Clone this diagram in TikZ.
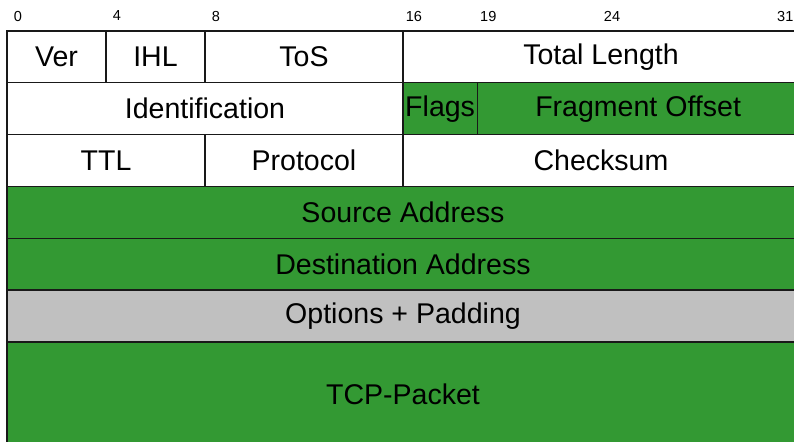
\documentclass[tikz,border=0pt]{standalone}
\usepackage{fontspec}
\setmainfont{Liberation Sans}
\definecolor{fgreen}{RGB}{51,153,51}
\definecolor{fgray}{RGB}{192,192,192}
\newcommand\fld[7]{\node[fld, fill=#6, minimum width={(#3-#2)*24.75*0.75pt}, minimum height={(#5-#4)*51.83*0.75pt}] (#1) at ({7+24.75*(#2+#3)/2},{31+51.83*(#4+#5)/2}) {#7};}
\newcommand\bitlbl[1]{\node[bitlabel] (b#1) at ({7+24.75*#1+11},16) {#1};}
\begin{document}
\begin{tikzpicture}[x=0.75pt,y=-0.75pt,
  fld/.style={draw=black!90, line width=1pt, rectangle, inner sep=0pt, font=\fontsize{21.4}{24}\selectfont},
  bitlabel/.style={inner sep=0pt, font=\fontsize{10.9}{12}\selectfont}]
\useasboundingbox (0,0) rectangle (794,442);
\clip (0,0) rectangle (794,442);
\fill[white] (0,0) rectangle (794,442);
\bitlbl{0}\bitlbl{4}\bitlbl{8}\bitlbl{16}\bitlbl{19}\bitlbl{24}\bitlbl{31}
\fld{ver}{0}{4}{0}{1}{white}{Ver}
\fld{ihl}{4}{8}{0}{1}{white}{IHL}
\fld{tos}{8}{16}{0}{1}{white}{ToS}
\fld{tl}{16}{32}{0}{1}{white}{Total Length}
\fld{id}{0}{16}{1}{2}{white}{Identification}
\fld{flags}{16}{19}{1}{2}{fgreen}{Flags}
\fld{fo}{19}{32}{1}{2}{fgreen}{Fragment Offset}
\fld{ttl}{0}{8}{2}{3}{white}{TTL}
\fld{proto}{8}{16}{2}{3}{white}{Protocol}
\fld{cks}{16}{32}{2}{3}{white}{Checksum}
\fld{src}{0}{32}{3}{4}{fgreen}{Source Address}
\fld{dst}{0}{32}{4}{5}{fgreen}{Destination Address}
\fld{opt}{0}{32}{5}{6}{fgray}{Options + Padding}
\fld{tcp}{0}{32}{6}{8}{fgreen}{TCP-Packet}
\end{tikzpicture}
\end{document}
